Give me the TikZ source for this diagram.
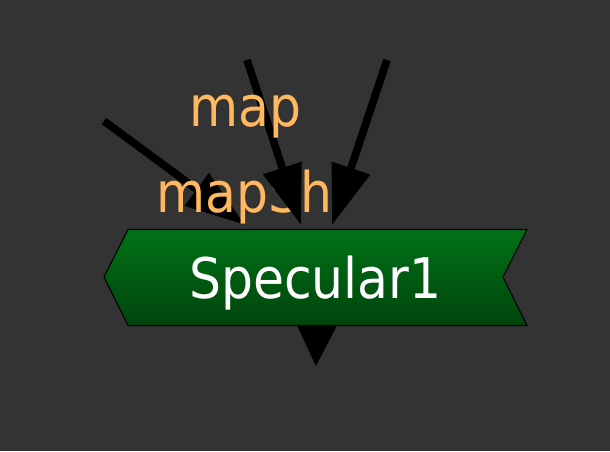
\documentclass[tikz,border=0pt]{standalone}
\usepackage{fontspec}
\setmainfont{DejaVu Sans Condensed}
\usetikzlibrary{arrows.meta,positioning}
\definecolor{bgcol}{RGB}{51,51,51}
\definecolor{labelcol}{RGB}{255,184,96}
\definecolor{greentop}{RGB}{0,114,22}
\definecolor{greenbot}{RGB}{0,68,12}
\tikzset{
  wire/.style={line width=5.8pt,-{Triangle[length=45pt,width=29pt]}},
  portlabel/.style={anchor=base west,inner sep=0pt,text=labelcol,font=\fontsize{42pt}{42pt}\selectfont},
  nodetitle/.style={anchor=base west,inner sep=0pt,text=white,font=\fontsize{42pt}{42pt}\selectfont}
}
\begin{document}
\begin{tikzpicture}[x=0.75pt,y=-0.75pt]
                    % Background
                    \fill[bgcol] (0,0) rectangle (610,451);
                    \useasboundingbox (0,0) rectangle (610,451);
                    {
                    % Named coordinates
                    \coordinate (in1) at (104,121);
                    \coordinate (in2) at (247,60);
                    \coordinate (in3) at (387,60);
                    \coordinate (pin1) at (245,225);
                    \coordinate (pin2) at (301,225);
                    \coordinate (pin3) at (332,225);

                    % Drawing banner specular
                    \shade[top color=greentop,bottom color=greenbot,draw=black,line width=0.8pt]
                      (104,277) -- (128,229.5) -- (527,229.5) -- (503,277) -- (527,325.5) -- (128,325.5) -- cycle;%

                    % Marking point {Specular1}
                    \node[nodetitle] (specular) at (189,298) {Specular1};%

                    % Drawing output arrow
                    \coordinate (pout) at (316,366);
                    \fill (297,325.5) -- (337,325.5) -- (pout) -- cycle;%

                    % Drawing arrow in1 pin1
                    \draw[wire] (in1) -- (pin1);%

                    % Marking point {mapSh}
                    \node[portlabel] (mapsh) at (156,212) {mapSh};%

                    % Drawing arrow in2 pin2
                    \draw[wire] (in2) -- (pin2);%

                    % Drawing arrow in3 pin3
                    \draw[wire] (in3) -- (pin3);%

                    % Marking point {map}
                    \node[portlabel] (map) at (189,126) {map};%
                    }
\end{tikzpicture}
\end{document}
